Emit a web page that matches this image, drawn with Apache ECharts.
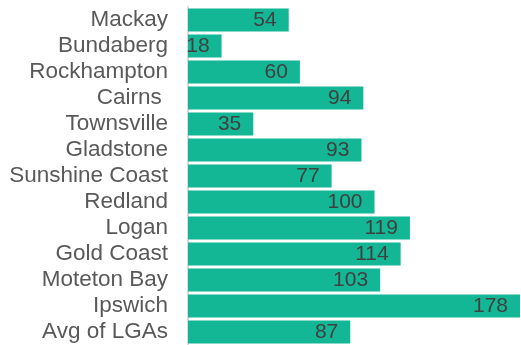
<!DOCTYPE html>
<html><head><meta charset="utf-8">
<script src="https://cdn.jsdelivr.net/npm/echarts@6/dist/echarts.min.js"></script>
<style>html,body{margin:0;padding:0;background:#fff}#c{width:521px;height:345px}</style>
</head><body><div id="c"></div>
<script>
const categories = ["Mackay","Bundaberg","Rockhampton","Cairns ","Townsville","Gladstone","Sunshine Coast","Redland","Logan","Gold Coast","Moteton Bay","Ipswich","Avg of LGAs"];
const values = [54,18,60,94,35,93,77,100,119,114,103,178,87];

const chart = echarts.init(document.getElementById('c'), null, {renderer:'canvas'});
chart.setOption({
  animation:false,
  grid:{left:188,right:1,top:7,bottom:0,containLabel:false},
  xAxis:{type:'value',min:0,max:178,show:false},
  yAxis:{type:'category',inverse:true,data:categories,
    axisLine:{show:true,lineStyle:{color:'#d9d9d9',width:2}},
    axisTick:{show:false},
    axisLabel:{interval:0,margin:20,color:'#595959',fontSize:22.5,fontFamily:'Liberation Sans, Arial, sans-serif'}},
  series:[{type:'bar',data:values,barCategoryGap:'12%',
    itemStyle:{color:'#13B795'},
    label:{show:true,position:'insideRight',distance:12,color:'#404040',fontSize:21,fontFamily:'Liberation Sans, Arial, sans-serif'}}]
});
</script></body></html>
